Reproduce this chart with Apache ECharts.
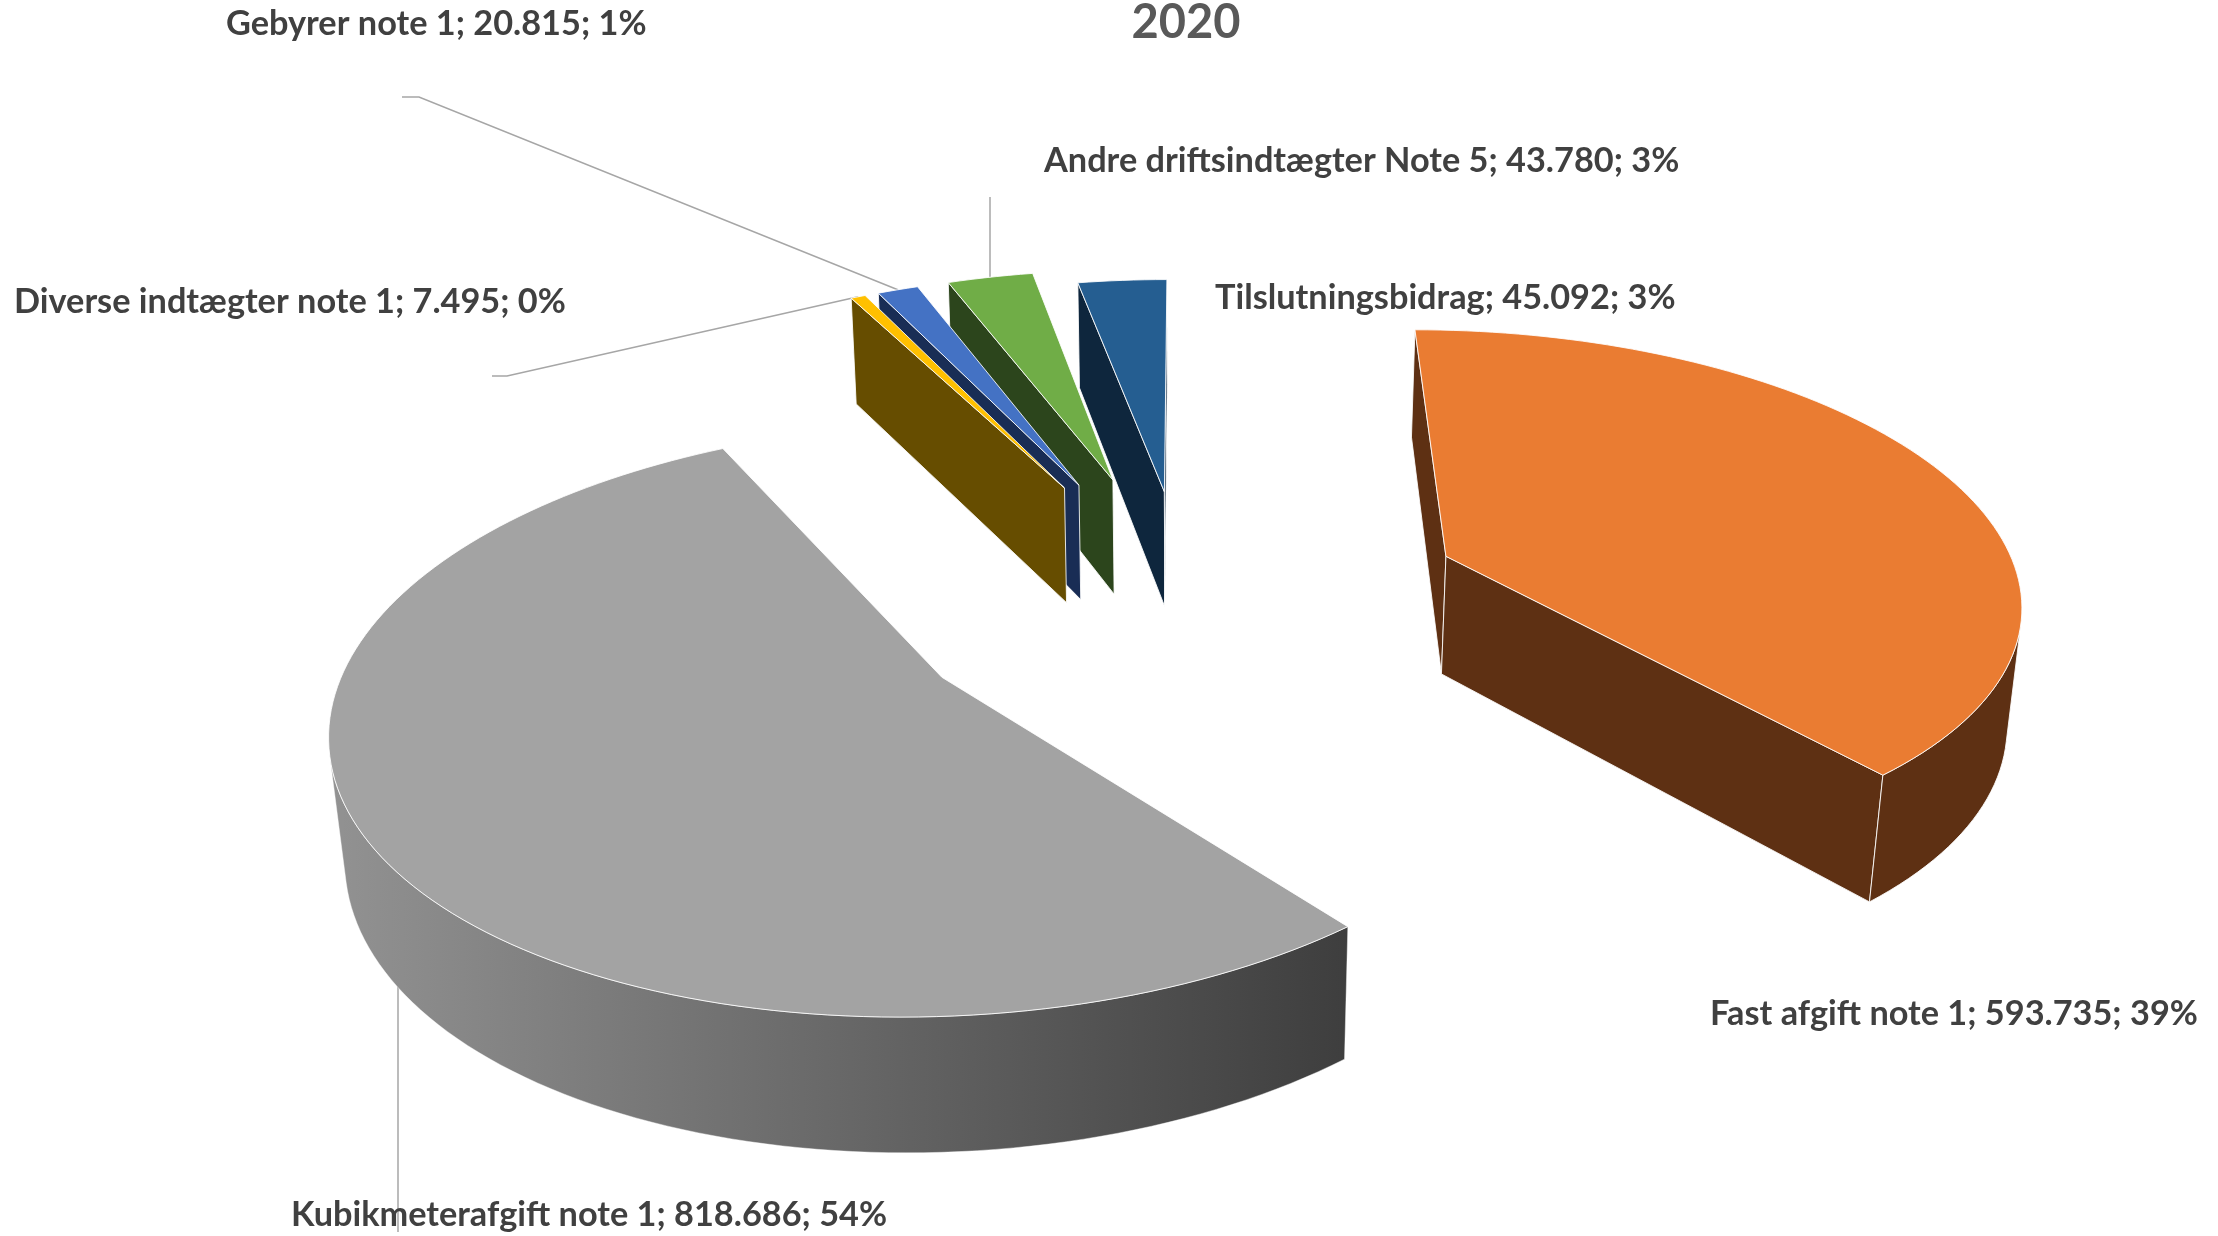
<!DOCTYPE html>
<html><head><meta charset="utf-8">
<style>html,body{margin:0;padding:0;background:#fff}#c{width:2218px;height:1236px}</style>
<script src="https://cdn.jsdelivr.net/npm/echarts@6/dist/echarts.min.js"></script>
</head><body><div id="c"></div>
<script>
// --- data ---
const titleText = '2020';
const names = ['Fast afgift note 1','Kubikmeterafgift note 1','Diverse indtægter note 1','Gebyrer note 1','Andre driftsindtægter Note 5','Tilslutningsbidrag'];
const values = [593735,818686,7495,20815,43780,45092];
// --- styling ---
const topColors = ['#ea7c32','#a3a3a3','#ffc000','#4472c4','#70ad47','#255e91'];
const sideColors = ['#5e3013','#808080','#664d00','#192d55','#2c451c','#0e263d'];
const grayWallStops = ['#929292','#3e3e3e'];
const labelPos = [[1710,1014],[291,1215],[14,302],[226,24],[1044,161],[1215,298]];
const leaderStart = [null,[398,1232],[492,376],[402,97],[990,197],null];
const leaderElbow = [null,null,[507,376],[419,97],null,null];
const explode = [0.49,0.49,0.497,0.497,0.497,0.43];
const drawOrder = [5,4,3,2,0,1];
// --- 3D projection of the pie (perspective camera), in full-size px ---
const S = 2218/1568;
const cam = {xc:838.5*S, yh:-950*S, F:2950*S, C:9925*S, H:800*S, D:7.22, k:0.13};
function project(X,Y,z){
  const w = cam.D + Y + cam.k*z;
  return [cam.xc + cam.F*X/w, cam.yh + (cam.C + cam.H*z)/w];
}
const total = values.reduce((a,b)=>a+b,0);
const deg = Math.PI/180;
function sliceInfo(i){
  let c=0; for(let j=0;j<i;j++) c+=values[j];
  const a0=c/total*2*Math.PI, a1=(c+values[i])/total*2*Math.PI, m=(a0+a1)/2;
  return {a0,a1,m,ox:explode[i]*Math.sin(m),oy:explode[i]*Math.cos(m)};
}
function pt(s,r,a,z){return project(s.ox+r*Math.sin(a),s.oy+r*Math.cos(a),z);}
function area(p){let t=0;for(let i=0;i<p.length;i++){const q=p[(i+1)%p.length];t+=p[i][0]*q[1]-q[0]*p[i][1];}return t;}
const edge='rgba(255,255,255,0.85)';
function poly(points,fill,lw){return {type:'polygon',shape:{points},style:{fill,stroke:edge,lineWidth:lw===undefined?1:lw,lineJoin:'round'},silent:true};}
function renderSlice(params,api){
  const i=api.value(0), s=sliceInfo(i), kids=[];
  const n=Math.max(2,Math.ceil((s.a1-s.a0)/(1.5*deg)));
  const angles=[];for(let j=0;j<=n;j++)angles.push(s.a0+(s.a1-s.a0)*j/n);
  const wallFill=sideColors[i];
  const wall=(A,B)=>{const q=[A(0),B(0),B(1),A(1)];return area(q)<0?q:null;};
  const apex=z=>pt(s,0,0,z);
  const w1=wall(apex,z=>pt(s,1,s.a0,z));
  const w2=wall(z=>pt(s,1,s.a1,z),apex);
  if(w1)kids.push(poly(w1,wallFill));
  if(w2)kids.push(poly(w2,wallFill));
  const topEdge=[],botEdge=[];
  for(let j=0;j<n;j++){
    const q=wall(z=>pt(s,1,angles[j],z),z=>pt(s,1,angles[j+1],z));
    if(q){ if(!topEdge.length){topEdge.push(q[0]);botEdge.push(q[3]);} topEdge.push(q[1]);botEdge.push(q[2]); }
  }
  if(topEdge.length){
    const pts=topEdge.concat(botEdge.slice().reverse());
    let fill=wallFill;
    if(i===1){
      const xs=pts.map(p=>p[0]);
      fill={type:'linear',x:Math.min(...xs),y:0,x2:Math.max(...xs),y2:0,global:true,
        colorStops:[{offset:0,color:grayWallStops[0]},{offset:1,color:grayWallStops[1]}]};
    }
    kids.push(poly(pts,fill,i===1?0.5:1));
  }
  const top=[pt(s,0,0,0)];
  angles.forEach(a=>top.push(pt(s,1,a,0)));
  kids.push(poly(top,topColors[i]));
  return {type:'group',children:kids};
}
function fmt(v){return String(v).replace(/\B(?=(\d{3})+(?!\d))/g,'.');}
function renderLabel(params,api){
  const i=api.value(0), v=api.value(1), s=sliceInfo(i), kids=[];
  const pct=Math.round(v/total*100);
  if(leaderStart[i]){
    const end=pt(s,1,s.m,0), pts=[leaderStart[i]];
    if(leaderElbow[i])pts.push(leaderElbow[i]);
    pts.push(leaderElbow[i]?end:[leaderStart[i][0],end[1]]);
    kids.push({type:'polyline',shape:{points:pts},style:{fill:null,stroke:'#a6a6a6',lineWidth:1.5},silent:true});
  }
  kids.push({type:'text',x:labelPos[i][0],y:labelPos[i][1],silent:true,style:{
    text:names[i]+'; '+fmt(v)+'; '+pct+'%',fill:'#404040',font:'bold 34.3px Lato',textAlign:'left',textVerticalAlign:'middle'}});
  return {type:'group',children:kids};
}
const chart=echarts.init(document.getElementById('c'),null,{renderer:'canvas',width:2218,height:1236});
const rows=values.map((v,i)=>[i,v]);
chart.setOption({
  animation:false,backgroundColor:'#fff',
  title:{text:titleText,left:1181,top:18,textAlign:'center',textVerticalAlign:'middle',textStyle:{color:'#595959',fontFamily:'Lato',fontWeight:'bold',fontSize:47}},
  series:[
    {type:'custom',coordinateSystem:'none',z:1,data:rows,renderItem:renderLabel,silent:true,clip:false},
    {type:'custom',coordinateSystem:'none',z:2,data:drawOrder.map(i=>rows[i]),renderItem:renderSlice,silent:true,clip:false}
  ]
});
</script></body></html>
